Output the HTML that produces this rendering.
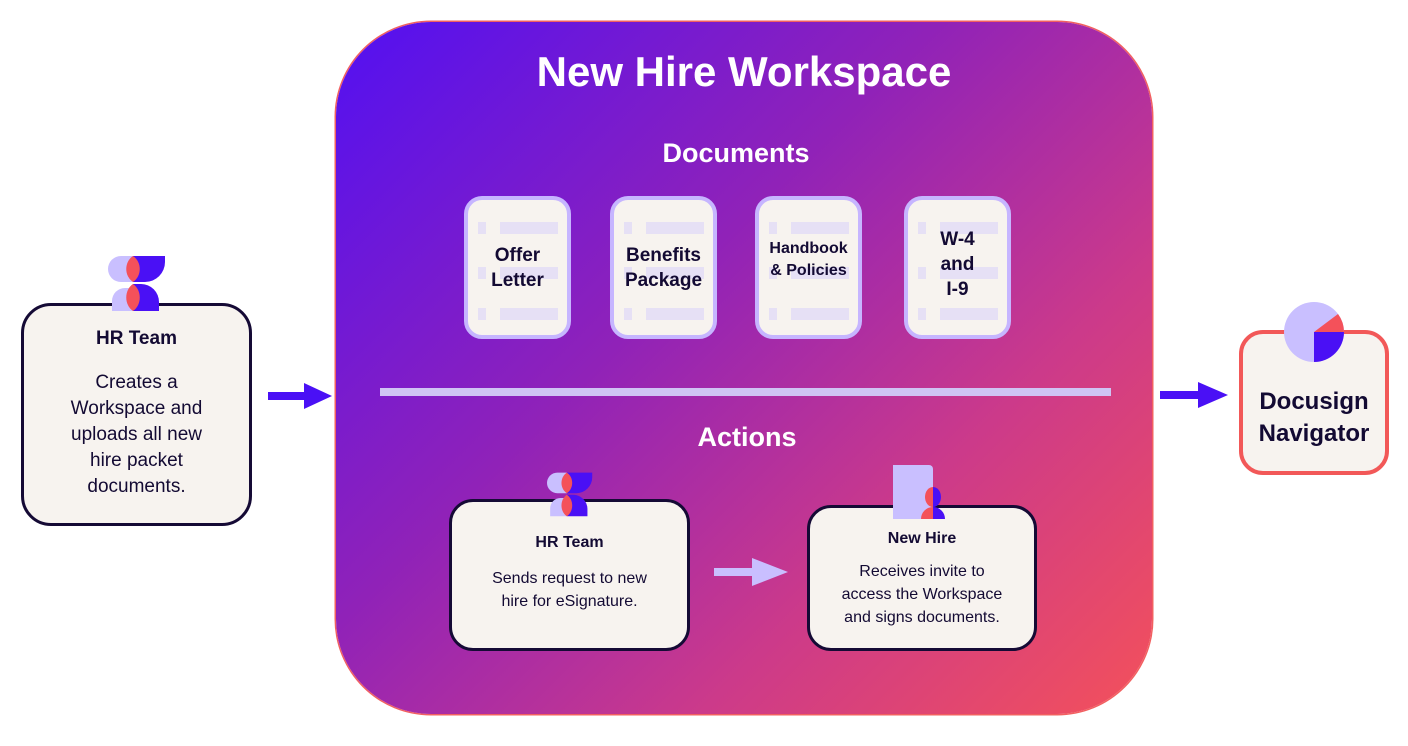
<!DOCTYPE html>
<html><head><meta charset="utf-8"><style>
body{margin:0;width:1408px;height:746px;background:#fff;position:relative;overflow:hidden;font-family:"Liberation Sans",sans-serif;color:#130a33}
.a{position:absolute}
.card{position:absolute;background:#f7f3ef;box-sizing:border-box;text-align:center}
.doc{position:absolute;top:196px;width:107px;height:143px;background:#f7f3ef;border:4px solid #c6b5ff;border-radius:18px;box-sizing:border-box;font-weight:bold;font-size:19px;line-height:25px;display:flex;align-items:center;justify-content:center;text-align:center}
.doc i{position:absolute;background:#e6e0f5;height:12px}
.doc span{position:relative}
</style></head><body>
<div class="a" style="left:336px;top:22px;width:816px;height:692px;border-radius:95px;background:linear-gradient(135deg,#5210f2 0%,#9022b8 40%,#cc3a8a 70%,#f4515a 100%);box-shadow:0 0 0 1.5px #f26060"></div>
<div class="a" style="left:336px;width:816px;top:48px;text-align:center;color:#fff;font-weight:bold;font-size:42px">New Hire Workspace</div>
<div class="a" style="left:336px;width:816px;top:138px;text-align:center;color:#fff;font-weight:bold;font-size:27px;padding-left:0;margin-left:-8px">Documents</div>
<div class="doc" style="left:464px"><i style="left:10px;top:22px;width:8px"></i><i style="left:32px;top:22px;width:58px"></i><i style="left:10px;top:67px;width:8px"></i><i style="left:32px;top:67px;width:58px"></i><i style="left:10px;top:108px;width:8px"></i><i style="left:32px;top:108px;width:58px"></i><span>Offer<br>Letter</span></div>
<div class="doc" style="left:610px"><i style="left:10px;top:22px;width:8px"></i><i style="left:32px;top:22px;width:58px"></i><i style="left:10px;top:67px;width:8px"></i><i style="left:32px;top:67px;width:58px"></i><i style="left:10px;top:108px;width:8px"></i><i style="left:32px;top:108px;width:58px"></i><span>Benefits<br>Package</span></div>
<div class="doc" style="left:755px;font-size:16px;line-height:22px"><i style="left:10px;top:22px;width:8px"></i><i style="left:32px;top:22px;width:58px"></i><i style="left:10px;top:67px;width:8px"></i><i style="left:32px;top:67px;width:58px"></i><i style="left:10px;top:108px;width:8px"></i><i style="left:32px;top:108px;width:58px"></i><span style="top:-8px">Handbook<br>&amp; Policies</span></div>
<div class="doc" style="left:904px"><i style="left:10px;top:22px;width:8px"></i><i style="left:32px;top:22px;width:58px"></i><i style="left:10px;top:67px;width:8px"></i><i style="left:32px;top:67px;width:58px"></i><i style="left:10px;top:108px;width:8px"></i><i style="left:32px;top:108px;width:58px"></i><span style="top:-3px">W-4<br>and<br>I-9</span></div>
<div class="a" style="left:380px;top:388px;width:731px;height:8px;background:#cfc4f4"></div>
<div class="a" style="left:336px;width:816px;top:422px;text-align:center;color:#fff;font-weight:bold;font-size:27px;margin-left:3px">Actions</div>

<!-- left card -->
<div class="card" style="left:21px;top:303px;width:231px;height:223px;border:3px solid #150a35;border-radius:30px;padding-top:22px">
<div style="font-weight:bold;font-size:19px">HR Team</div>
<div style="font-size:19px;line-height:26px;margin-top:20px">Creates a<br>Workspace and<br>uploads all new<br>hire packet<br>documents.</div></div>
<svg class="a" style="left:108px;top:254px" width="58" height="58" viewBox="0 0 58 58">
<path d="M13 2h12v26h-12a13 13 0 0 1 0-26z" fill="#c9bfff"/><path d="M4 57v-10a13 13 0 0 1 13-13h8v23z" fill="#c9bfff"/>
<path d="M25 2h32v6a20 20 0 0 1-20 20h-12z" fill="#4a10f5"/><path d="M25 30h8a18 18 0 0 1 18 18v9h-26z" fill="#4a10f5"/>
<path d="M25 2c-9 6-9 20 0 26c9-6 9-20 0-26z" fill="#f4515a"/><path d="M25 30c-9 6-9 21 0 27c9-6 9-21 0-27z" fill="#f4515a"/></svg>

<!-- arrows -->
<svg class="a" style="left:266px;top:382px" width="70" height="28"><rect x="2" y="10" width="38" height="8" fill="#4a10f5"/><polygon points="38,1 66,14 38,27" fill="#4a10f5"/></svg>
<svg class="a" style="left:1158px;top:381px" width="72" height="28"><rect x="2" y="10" width="40" height="8" fill="#4a10f5"/><polygon points="40,1 70,14 40,27" fill="#4a10f5"/></svg>
<svg class="a" style="left:712px;top:557px" width="78" height="30"><rect x="2" y="11" width="40" height="8" fill="#c9bfff"/><polygon points="40,1 76,15 40,29" fill="#c9bfff"/></svg>

<!-- action cards -->
<div class="card" style="left:449px;top:499px;width:241px;height:152px;border:3px solid #150a35;border-radius:24px;padding-top:32px">
<div style="font-weight:bold;font-size:16px">HR Team</div>
<div style="font-size:16px;line-height:23px;margin-top:15px">Sends request to new<br>hire for eSignature.</div></div>
<svg class="a" style="left:543px;top:471px" width="54" height="46" viewBox="0 0 58 58">
<path d="M13 2h12v26h-12a13 13 0 0 1 0-26z" fill="#c9bfff"/><path d="M4 57v-10a13 13 0 0 1 13-13h8v23z" fill="#c9bfff"/>
<path d="M25 2h32v6a20 20 0 0 1-20 20h-12z" fill="#4a10f5"/><path d="M25 30h8a18 18 0 0 1 18 18v9h-26z" fill="#4a10f5"/>
<path d="M25 2c-9 6-9 20 0 26c9-6 9-20 0-26z" fill="#f4515a"/><path d="M25 30c-9 6-9 21 0 27c9-6 9-21 0-27z" fill="#f4515a"/></svg>
<div class="card" style="left:807px;top:505px;width:230px;height:146px;border:3px solid #150a35;border-radius:24px;padding-top:22px">
<div style="font-weight:bold;font-size:16px">New Hire</div>
<div style="font-size:16px;line-height:23px;margin-top:12px">Receives invite to<br>access the Workspace<br>and signs documents.</div></div>
<svg class="a" style="left:893px;top:465px" width="56" height="54">
<path d="M0 0h36a4 4 0 0 1 4 4v50h-40z" fill="#c9bfff"/>
<path d="M40 22a8 10 0 0 0 0 20z" fill="#f4515a"/><path d="M40 22a8 10 0 0 1 0 20z" fill="#4a10f5"/>
<path d="M28 54a12 12 0 0 1 12-12v12z" fill="#f4515a"/><path d="M40 42a12 12 0 0 1 12 12h-12z" fill="#4a10f5"/></svg>

<!-- docusign -->
<div class="card" style="left:1239px;top:330px;width:150px;height:145px;border:4px solid #f25858;border-radius:24px;padding-top:52px;font-weight:bold;font-size:24px;line-height:32px">Docusign<br>Navigator</div>
<svg class="a" style="left:1283px;top:301px" width="62" height="62"><circle cx="31" cy="31" r="30" fill="#c9bfff"/><path d="M31 31L55 13A30 30 0 0 1 61 31z" fill="#f4515a"/><path d="M31 31H61A30 30 0 0 1 31 61z" fill="#4a10f5"/></svg>
</body></html>
